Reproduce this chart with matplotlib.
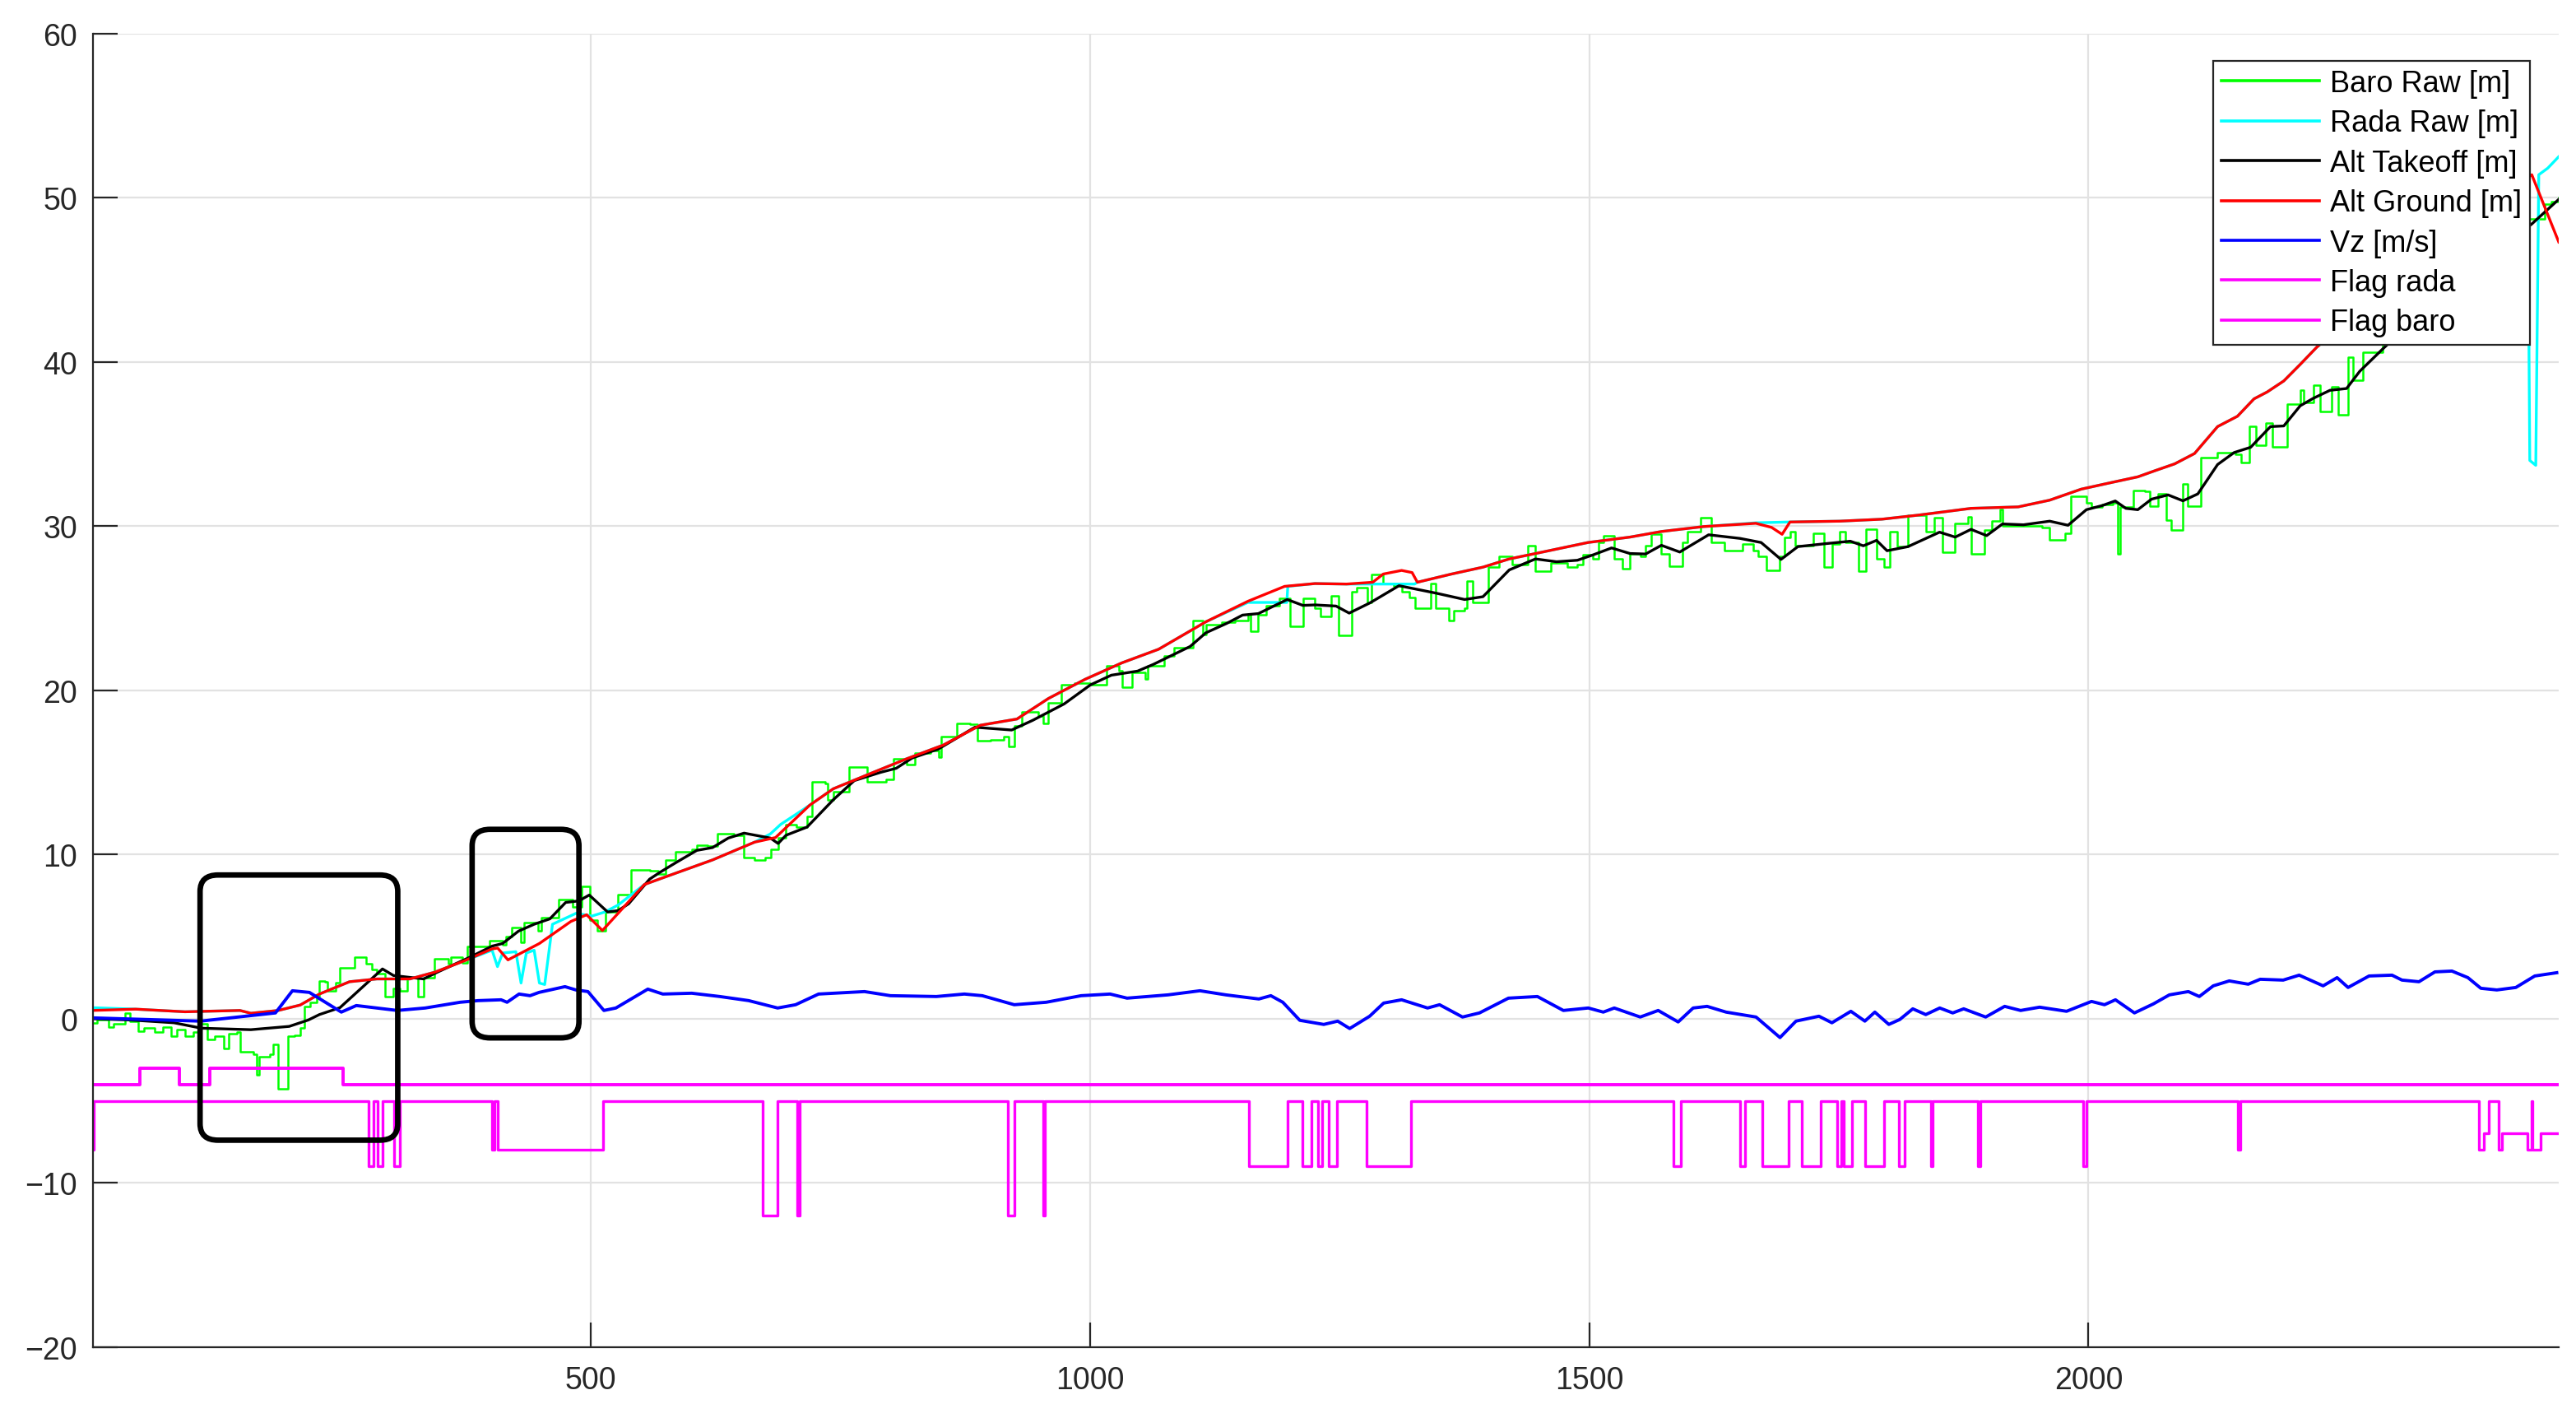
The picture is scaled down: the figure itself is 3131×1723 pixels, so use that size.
import numpy as np
import matplotlib
matplotlib.use("Agg")
import matplotlib.pyplot as plt
from matplotlib.patches import FancyBboxPatch

plt.rcParams['font.family'] = ['Liberation Sans', 'DejaVu Sans']

# ---- data: (sample index, value) ----
baro_raw = [
    (0, -0.25), (5.5, -0.08), (16.5, -0.5), (22, -0.33), (33, 0.33), (38.5, -0.17), (46.7, -0.75),
    (52, -0.58), (63, -0.83), (71.5, -0.5), (79.7, -1.08), (85, -0.67), (93.4, -1.08), (101.7, -0.83),
    (107, -0.33), (115.4, -1.25), (123.6, -1.08), (132, -1.83), (137.4, -0.92), (145.6, -0.83),
    (148.4, -2.0), (162, -2.17), (165, -3.42), (167.6, -2.33), (178.6, -2.17), (181.3, -1.58),
    (186.8, -4.25), (196.4, -1.08), (203.3, -1.0), (208.8, -0.58), (212.9, 0.75), (218.4, 1.0),
    (225.3, 1.33), (228, 2.3), (233.5, 2.25), (236, 1.67), (244.5, 2.17), (248.6, 3.08), (263.7, 3.75),
    (274.7, 3.33), (280.2, 3.0), (285.7, 2.75), (294, 1.33), (302.2, 1.83), (309, 1.67), (316, 2.5),
    (327, 1.33), (332.4, 2.5), (343.4, 3.67), (357, 3.33), (360, 3.75), (370.9, 3.42), (376.4, 4.42),
    (398.3, 4.75), (412, 4.5), (415, 5.0), (421, 5.53), (430, 4.67), (433, 5.83), (447, 5.33),
    (450, 6.17), (467.5, 7.25), (482, 6.83), (490.6, 8.08), (499, 6.0), (506, 5.33), (515, 6.5),
    (527, 7.58), (540, 9.08), (559, 9.0), (567, 8.83), (574.5, 9.67), (585, 10.17), (601, 10.33),
    (606, 10.58), (617, 10.5), (627, 11.25), (643, 11.17), (653.4, 9.83), (664, 9.67), (674.4, 9.83),
    (680, 10.33), (687.5, 11.0), (695.4, 11.83), (706, 11.67), (716.5, 12.33), (721.7, 14.42),
    (735, 14.33), (737.5, 13.33), (742.7, 13.83), (758.5, 15.33), (777, 14.42), (795.3, 14.58),
    (803.2, 15.83), (816.3, 15.5), (824.2, 16.17), (840, 16.33), (848, 15.92), (850.5, 17.17),
    (866.2, 18.0), (879.4, 17.92), (887.3, 16.92), (900.4, 17.0), (913.5, 17.17), (918.8, 16.58),
    (924.1, 17.83), (932, 18.67), (947.7, 18.42), (953, 18.0), (958.2, 19.25), (971.4, 20.33),
    (984.5, 20.42), (1000.3, 20.33), (1016.1, 21.5), (1029.2, 21.17), (1031.8, 20.17), (1042.4, 21.08),
    (1055.5, 20.67), (1058.1, 21.5), (1073.9, 22.08), (1084.4, 22.58), (1102.8, 24.25), (1113.3, 23.42),
    (1116, 24.0), (1131.7, 24.17), (1144.9, 24.25), (1158, 24.67), (1160.6, 23.58), (1168.5, 24.58),
    (1176.4, 25.17), (1189.5, 25.58), (1200, 23.92), (1213.1, 25.58), (1225.3, 25.0), (1230.6, 24.5),
    (1241.1, 25.75), (1249, 23.33), (1262.1, 26.0), (1267.3, 26.25), (1277.9, 25.33), (1282, 27.08),
    (1293.6, 26.5), (1304.1, 26.33), (1312, 26.0), (1320, 25.67), (1325.2, 25.0), (1340.9, 26.5),
    (1346.2, 25.0), (1359.3, 24.25), (1364.6, 24.83), (1375.1, 25.0), (1377.7, 26.67), (1383, 25.33),
    (1398.8, 27.5), (1409.3, 28.17), (1422.4, 27.67), (1438.2, 28.83), (1446.1, 27.25), (1461.8, 27.75),
    (1477.6, 27.5), (1488.1, 27.67), (1493.4, 28.25), (1503.9, 28.0), (1509.1, 29.0), (1514.4, 29.42),
    (1524.9, 28.0), (1532.8, 27.42), (1540.7, 28.33), (1551.2, 28.17), (1556.4, 28.83), (1561.7, 29.5),
    (1572.2, 28.33), (1580.1, 27.58), (1593.2, 29.0), (1598.5, 29.67), (1611.6, 30.5), (1622.1, 29.0),
    (1635.3, 28.5), (1653.7, 28.92), (1664.2, 28.5), (1669.5, 28.17), (1677.3, 27.33), (1690.5, 28.17),
    (1695.7, 29.33), (1701, 29.67), (1706.2, 28.83), (1724.6, 29.58), (1735.1, 27.5), (1743, 28.92),
    (1750.9, 29.67), (1756.2, 29.0), (1769.3, 27.25), (1777.2, 29.83), (1787.7, 28.0), (1795.6, 27.5),
    (1800.8, 29.67), (1808.7, 28.75), (1819.2, 30.67), (1837.6, 29.67), (1845.5, 30.5), (1853.4, 28.42),
    (1866.5, 30.17), (1879.7, 30.58), (1882.3, 28.33), (1895.4, 29.75), (1903.3, 30.33), (1911.2, 31.0),
    (1913.8, 30.0), (1953.2, 29.92), (1961.1, 29.17), (1976.9, 29.58), (1982.2, 31.83), (1997.9, 31.42),
    (2003.2, 31.17), (2013.7, 31.33), (2024.2, 31.42), (2029.5, 28.33), (2032.1, 31.17), (2045, 32.17),
    (2056.5, 32.1), (2061.5, 31.22), (2069.7, 31.96), (2078, 30.38), (2083, 29.75), (2094.6, 32.59),
    (2099.5, 31.22), (2112.8, 34.17), (2129.3, 34.48), (2147.5, 34.38), (2152.5, 33.85), (2160.8, 36.06),
    (2167.4, 34.9), (2177.3, 36.27), (2184, 34.8), (2198.9, 37.43), (2212.1, 38.27), (2215.4, 37.54),
    (2225.4, 38.59), (2232, 37.0), (2243.6, 38.48), (2250.2, 36.8), (2260.1, 40.27), (2265.1, 38.9),
    (2275, 40.59), (2294.9, 41.11), (2330, 42.5), (2370, 44.5), (2405, 46.5), (2437.3, 48.69),
    (2457.1, 49.6), (2463.7, 49.74), (2471, 50.0),
]

rada_raw = [
    (0, 0.67), (44, 0.58), (93.4, 0.42), (148.4, 0.5), (159.4, 0.33), (186.8, 0.5), (208.8, 0.83),
    (228, 1.5), (258.2, 2.25), (285.7, 2.42), (318.7, 2.42), (343.4, 2.83), (373.6, 3.53), (401, 4.17),
    (406.4, 3.17), (411.6, 4.0), (424.8, 4.08), (430, 2.17), (435.3, 4.0), (443.1, 4.17), (448.4, 2.17),
    (453.7, 2.08), (461.5, 5.75), (485.2, 6.42), (501, 6.25), (514.1, 6.5), (527.2, 6.92), (553.5, 8.17),
    (579.8, 8.75), (621.9, 9.67), (663.9, 10.75), (679.7, 11.25), (690, 11.83), (711, 12.67), (719, 13.0),
    (742.7, 14.0), (779.5, 14.92), (816.3, 15.83), (853.1, 16.67), (889.9, 17.87), (926.7, 18.25),
    (958.2, 19.5), (995, 20.67), (1031.8, 21.67), (1068.6, 22.5), (1115.9, 24.17), (1158, 25.35),
    (1197, 25.35), (1198, 26.33), (1225.2, 26.5), (1256.8, 26.47), (1325, 26.47), (1327.8, 26.58),
    (1362, 27.08), (1393.5, 27.5), (1419.8, 28.0), (1446.1, 28.33), (1498.6, 29.0), (1540.7, 29.33),
    (1572.2, 29.67), (1614.2, 29.97), (1666.8, 30.2), (1701, 30.25), (1750.9, 30.3), (1793, 30.42),
    (1829.7, 30.67), (1882.3, 31.08), (1929.6, 31.17), (1961.1, 31.58), (1992.7, 32.25), (2024.2, 32.67),
    (2049.4, 33.0), (2066.4, 33.37), (2086.3, 33.79), (2106.2, 34.42), (2129.3, 36.06), (2149.2, 36.69),
    (2165.8, 37.75), (2179, 38.17), (2195.6, 38.84), (2212.1, 39.85), (2228.7, 40.9), (2260, 42.5),
    (2330, 46.0), (2400, 49.5), (2440, 51.0), (2442, 34.0), (2448, 33.7), (2451, 51.4), (2460, 51.8),
    (2471, 52.5),
]

alt_takeoff = [
    (0, 0.0), (38.5, -0.08), (82.4, -0.25), (109.9, -0.58), (159.4, -0.67), (197.8, -0.47), (217, -0.08),
    (228, 0.25), (248.6, 0.67), (291.2, 3.03), (302.2, 2.63), (332.4, 2.42), (346.1, 2.83), (379, 3.75),
    (401.1, 4.42), (411.6, 4.58), (427.4, 5.33), (443.1, 5.75), (458.9, 6.08), (474.7, 7.08), (487.8, 7.17),
    (498.3, 7.53), (516.7, 6.5), (527.2, 6.58), (537.8, 7.0), (558.8, 8.5), (569.3, 8.92), (585, 9.5),
    (606.1, 10.25), (621.8, 10.42), (637.6, 11.0), (653.4, 11.3), (679.7, 11.0), (687.5, 10.67),
    (695.4, 11.17), (716.5, 11.67), (742.7, 13.33), (763.8, 14.5), (790, 15.0), (805.8, 15.25),
    (821.6, 15.87), (847.9, 16.42), (884.6, 17.75), (921.4, 17.58), (942.5, 18.17), (974, 19.17),
    (1000.3, 20.33), (1021.3, 20.92), (1047.6, 21.17), (1063.4, 21.58), (1100.2, 22.67), (1115.9, 23.5),
    (1137, 24.08), (1152.7, 24.58), (1168.5, 24.67), (1197.4, 25.53), (1213.1, 25.17), (1225.2, 25.2),
    (1246.3, 25.13), (1259.5, 24.7), (1280.5, 25.33), (1309.4, 26.37), (1346.2, 25.92), (1375.1, 25.53),
    (1393.5, 25.7), (1419.8, 27.33), (1446.1, 28.0), (1467.1, 27.83), (1488.1, 27.92), (1503.9, 28.25),
    (1522.3, 28.67), (1540.7, 28.33), (1556.4, 28.3), (1572.2, 28.83), (1590.6, 28.42), (1619.5, 29.47),
    (1651, 29.25), (1672.1, 29.0), (1692, 27.97), (1708.9, 28.75), (1735.1, 28.92), (1761.4, 29.08),
    (1774.5, 28.8), (1787.7, 29.13), (1798.2, 28.5), (1819.2, 28.75), (1850.8, 29.63), (1866.5, 29.33),
    (1882.3, 29.8), (1898, 29.42), (1913.8, 30.13), (1934.9, 30.08), (1961.1, 30.3), (1979.5, 30.05),
    (1997.9, 31.0), (2013.7, 31.25), (2026.8, 31.53), (2037.4, 31.08), (2049.4, 31.0), (2063.1, 31.64),
    (2079.7, 31.9), (2094.6, 31.54), (2109.5, 31.96), (2129.3, 33.75), (2145.9, 34.48), (2162.4, 34.8),
    (2182.3, 36.06), (2195.6, 36.1), (2212.1, 37.33), (2225.4, 37.79), (2241.9, 38.27), (2258.5, 38.38),
    (2271.7, 39.43), (2294.9, 40.8), (2311.4, 41.74), (2350, 43.8), (2400, 46.3), (2444, 48.4),
    (2471, 49.9),
]

alt_ground = [
    (0, 0.5), (44, 0.58), (93.4, 0.42), (148.4, 0.5), (159.4, 0.33), (186.8, 0.5), (208.8, 0.83),
    (228, 1.5), (258.2, 2.25), (285.7, 2.42), (318.7, 2.42), (343.4, 2.83), (373.6, 3.53), (401, 4.25),
    (406.6, 4.3), (416.9, 3.58), (448.4, 4.58), (479.9, 5.92), (495.7, 6.33), (511.5, 5.37),
    (553.5, 8.17), (579.8, 8.75), (621.9, 9.67), (663.9, 10.75), (684.9, 11.03), (719.1, 13.0),
    (742.7, 14.0), (779.5, 14.92), (816.3, 15.83), (853.1, 16.67), (889.9, 17.87), (926.7, 18.25),
    (958.2, 19.5), (995, 20.67), (1031.8, 21.67), (1068.6, 22.5), (1115.9, 24.17), (1158, 25.42),
    (1194.8, 26.33), (1225.2, 26.5), (1256.8, 26.47), (1283.1, 26.58), (1293.6, 27.08), (1312, 27.3),
    (1322.5, 27.17), (1327.8, 26.58), (1362, 27.08), (1393.5, 27.5), (1419.8, 28.0), (1446.1, 28.33),
    (1498.6, 29.0), (1540.7, 29.33), (1572.2, 29.67), (1614.2, 29.97), (1666.8, 30.17), (1682.6, 29.92),
    (1693.1, 29.5), (1701, 30.25), (1750.9, 30.3), (1793, 30.42), (1829.7, 30.67), (1882.3, 31.08),
    (1929.6, 31.17), (1961.1, 31.58), (1992.7, 32.25), (2024.2, 32.67), (2049.4, 33.0), (2066.4, 33.37),
    (2086.3, 33.79), (2106.2, 34.42), (2129.3, 36.06), (2149.2, 36.69), (2165.8, 37.75), (2179, 38.17),
    (2195.6, 38.84), (2212.1, 39.85), (2228.7, 40.9), (2260, 42.5), (2330, 46.0), (2400, 49.5),
    (2444, 51.4), (2471, 47.3),
]

vz = [
    (0, 0.05), (109, -0.15), (184, 0.35), (201, 1.7), (218, 1.6), (250, 0.4), (265, 0.8), (306, 0.5),
    (334, 0.65), (369, 1.0), (387, 1.1), (410, 1.15), (416, 1.0), (428, 1.5), (439, 1.4), (448, 1.6),
    (474, 1.95), (485, 1.75), (497, 1.65), (513, 0.5), (525, 0.65), (557, 1.8), (572, 1.5), (601, 1.55),
    (629, 1.35), (658, 1.1), (687, 0.65), (705, 0.85), (728, 1.5), (774, 1.65), (800, 1.4), (846, 1.35),
    (874, 1.5), (892, 1.4), (924, 0.85), (956, 1.0), (991, 1.4), (1020, 1.5), (1037, 1.25), (1078, 1.45),
    (1110, 1.7), (1136, 1.45), (1169, 1.2), (1181, 1.4), (1193, 1.0), (1210, -0.1), (1234, -0.35),
    (1248, -0.15), (1260, -0.6), (1280, 0.15), (1294, 0.95), (1312, 1.15), (1338, 0.65), (1350, 0.85),
    (1373, 0.1), (1390, 0.35), (1419, 1.25), (1448, 1.35), (1474, 0.5), (1499, 0.65), (1514, 0.4),
    (1525, 0.65), (1551, 0.1), (1569, 0.5), (1589, -0.2), (1604, 0.65), (1618, 0.75), (1637, 0.4),
    (1667, 0.1), (1691, -1.15), (1707, -0.15), (1730, 0.15), (1743, -0.25), (1762, 0.45), (1776, -0.15),
    (1786, 0.4), (1800, -0.35), (1811, -0.05), (1824, 0.6), (1837, 0.25), (1851, 0.65), (1864, 0.35),
    (1875, 0.6), (1897, 0.1), (1916, 0.75), (1932, 0.5), (1951, 0.7), (1978, 0.45), (2003, 1.05),
    (2016, 0.85), (2027, 1.15), (2046, 0.35), (2065, 0.9), (2081, 1.45), (2100, 1.65), (2111, 1.35),
    (2125, 2.0), (2141, 2.3), (2160, 2.1), (2172, 2.4), (2195, 2.35), (2211, 2.65), (2235, 2.0),
    (2249, 2.5), (2260, 1.9), (2281, 2.6), (2304, 2.65), (2314, 2.35), (2331, 2.25), (2347, 2.85),
    (2364, 2.9), (2380, 2.5), (2393, 1.85), (2409, 1.75), (2428, 1.9), (2447, 2.6), (2469, 2.8),
]

# flags: (start index, level), held until the next entry
flag_rada = [(1, -4), (48, -3), (88, -4), (118, -3), (252, -4), (2471, -4)]

flag_baro = [
    (1, -8), (2, -5), (277, -9), (282, -5), (286, -9), (291, -5), (303, -9), (309, -5), (401, -8),
    (403, -5), (407, -8), (512, -5), (672, -12), (687, -5), (707, -12), (709, -5), (918, -12), (924, -5),
    (953, -12), (955, -5), (1159, -9), (1198, -5), (1213, -9), (1222, -5), (1228, -9), (1232, -5),
    (1239, -9), (1247, -5), (1277, -9), (1321, -5), (1584, -9), (1592, -5), (1651, -9), (1656, -5),
    (1673, -9), (1700, -5), (1713, -9), (1732, -5), (1748, -9), (1752, -5), (1755, -9), (1763, -5),
    (1776, -9), (1795, -5), (1810, -9), (1816, -5), (1842, -9), (1844, -5), (1889, -9), (1892, -5),
    (1995, -9), (1998, -5), (2150, -8), (2152, -5), (2391, -8), (2396, -7), (2401, -5), (2411, -8),
    (2414, -7), (2440, -8), (2444, -5), (2445, -8), (2453, -7), (2471, -7),
]

# highlighted windows: (x0, x1, y0, y1)
boxes = [(108.5, 306.5, -7.4, 8.75), (381, 488, -1.17, 11.53)]

x_max = 2471
y_ticks = [-20, -10, 0, 10, 20, 30, 40, 50, 60]
x_ticks = [500, 1000, 1500, 2000]

fig = plt.figure(figsize=(31.31, 17.24), dpi=100)
ax = fig.add_axes([0.036, 0.0500, 0.9573, 0.9258])

def xy(pairs):
    a = np.array(pairs, dtype=float)
    return a[:, 0], a[:, 1]

lw = 2.4
x, y = xy(baro_raw)
ax.plot(x, y, color=(0, 1, 0), lw=1.8, drawstyle='steps-post', label='Baro Raw [m]')
x, y = xy(rada_raw)
ax.plot(x, y, color=(0, 1, 1), lw=lw, label='Rada Raw [m]')
x, y = xy(alt_takeoff)
ax.plot(x, y, color='k', lw=lw, label='Alt Takeoff [m]')
x, y = xy(alt_ground)
ax.plot(x, y, color=(1, 0, 0), lw=lw, label='Alt Ground [m]')
x, y = xy(vz)
ax.plot(x, y, color=(0, 0, 1), lw=lw + 0.4, label='Vz [m/s]')
x, y = xy(flag_rada)
ax.plot(x, y, color=(1, 0, 1), lw=lw + 0.4, drawstyle='steps-post', label='Flag rada')
x, y = xy(flag_baro)
ax.plot(x, y, color=(1, 0, 1), lw=lw, drawstyle='steps-post', label='Flag baro')

for x0, x1, y0, y1 in boxes:
    ax.add_patch(FancyBboxPatch((x0, y0), x1 - x0, y1 - y0,
                                boxstyle="round,pad=0,rounding_size=18",
                                mutation_aspect=1.0 / 18,
                                fill=False, ec='k', lw=4.8, zorder=5))

ax.set_xlim(1, x_max)
ax.set_ylim(-20, 60)
ax.set_xticks(x_ticks)
ax.set_yticks(y_ticks)
ax.grid(True, color='#e2e2e2', lw=1.6)
ax.set_axisbelow(True)
for s in ['top', 'right']:
    ax.spines[s].set_visible(False)
for s in ['left', 'bottom']:
    ax.spines[s].set_color('#262626')
    ax.spines[s].set_linewidth(1.6)
ax.tick_params(direction='in', length=21.5, width=1.6, color='#262626',
               labelcolor='#262626', labelsize=27)
ax.tick_params(axis='x', pad=16)
ax.tick_params(axis='y', pad=13.5)

leg = ax.legend(loc='upper right', bbox_to_anchor=(0.9821, 0.9565),
                bbox_transform=fig.transFigure, fontsize=26, fancybox=False,
                edgecolor='#262626', framealpha=1, borderpad=0.28,
                labelspacing=0.37, handlelength=3.3, handletextpad=0.35,
                borderaxespad=0)
leg.get_frame().set_linewidth(1.6)
for h in leg.get_lines():
    h.set_linewidth(2.6)

fig.savefig('out.png', dpi=100)
